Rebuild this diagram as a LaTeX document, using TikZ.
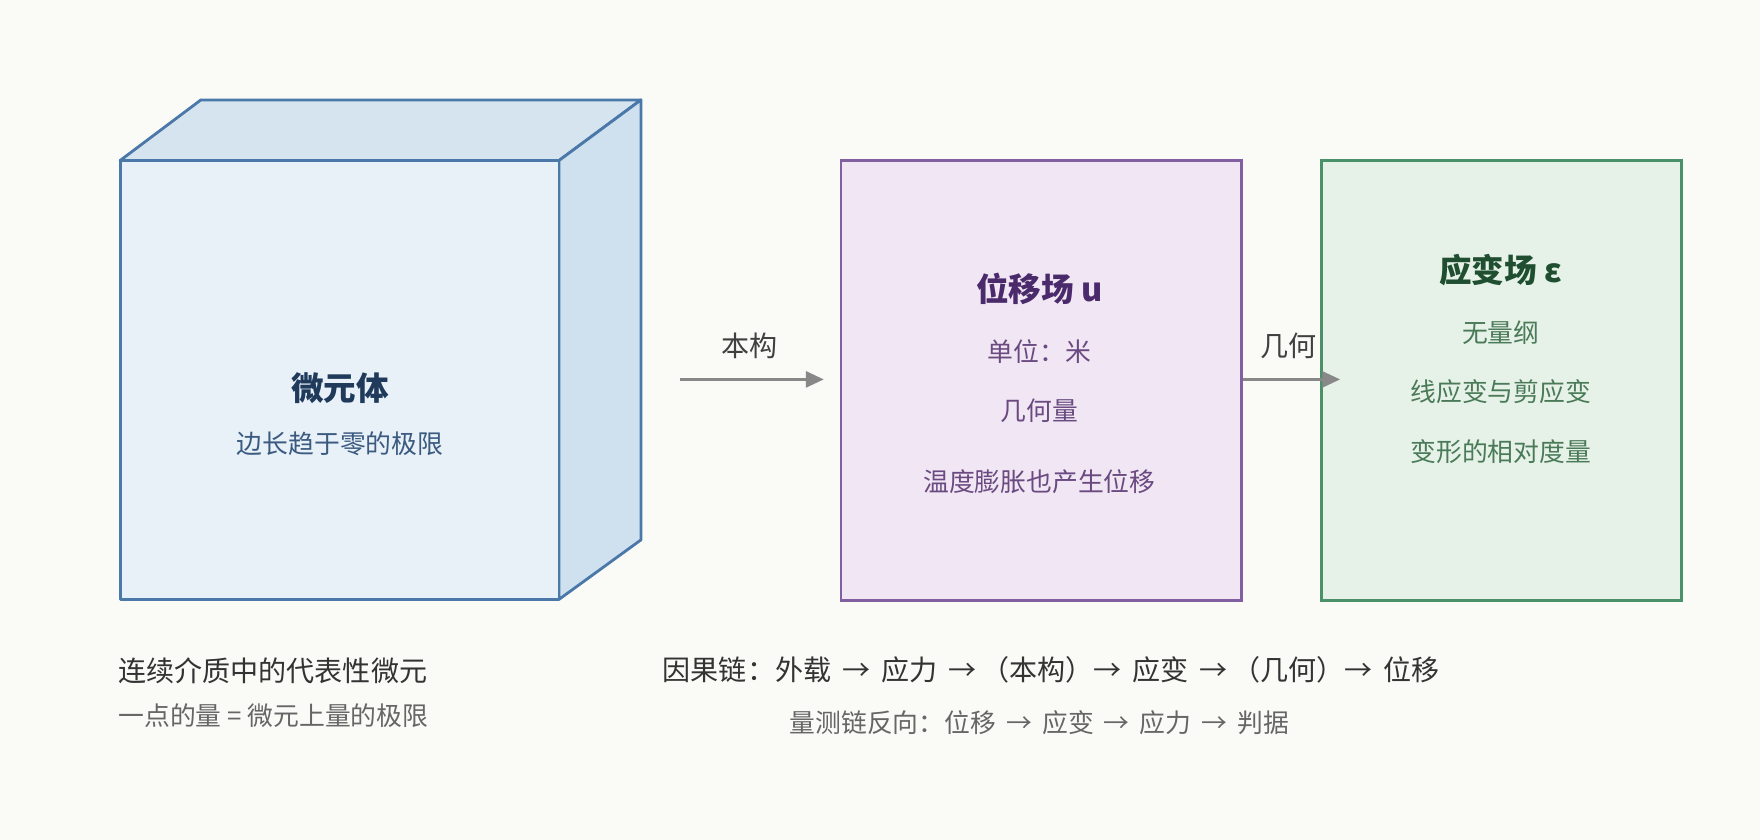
\documentclass[tikz,border=0pt]{standalone}
\usepackage{fontspec}
\setmainfont{Noto Sans CJK SC}
\usetikzlibrary{arrows.meta}
\definecolor{bg}{HTML}{FAFAF6}
\definecolor{cubeS}{HTML}{4A78A8}
\definecolor{cubeF}{HTML}{E8F0F8}
\definecolor{cubeT}{HTML}{D6E4F0}
\definecolor{cubeR}{HTML}{CFE0EE}
\definecolor{purS}{HTML}{8060A0}
\definecolor{purF}{HTML}{F0E6F4}
\definecolor{grnS}{HTML}{4A9068}
\definecolor{grnF}{HTML}{E6F2E8}
\definecolor{arr}{HTML}{888888}
\definecolor{cubeTxt}{HTML}{1F3A5A}
\begin{document}
\begin{tikzpicture}[x=1pt,y=-1pt,
  face/.style={draw=cubeS,line width=2.5pt,line join=round},
  box/.style={line width=2.5pt},
  conn/.style={draw=arr,line width=3pt,-{Triangle[length=16pt,width=14pt]}},
  lab/.style={font=\fontsize{25}{29}\selectfont,text=black!75},
  ttl/.style={font=\fontsize{29}{33}\selectfont\bfseries},
  sub/.style={font=\fontsize{23}{27}\selectfont}]
\fill[bg] (0,0) rectangle (1568,748);
\useasboundingbox (0,0) rectangle (1568,748);
% cube
\filldraw[face,fill=cubeT] (107,143)--(179,89)--(571,89)--(498,143)--cycle;
\filldraw[face,fill=cubeR] (498,143)--(571,89)--(571,481)--(498,534)--cycle;
\filldraw[face,fill=cubeF] (107,143) rectangle (498,534);
\node[ttl,text=cubeTxt] (cubeT) at (303,346) {微元体};
\node[sub,text={rgb,255:red,58;green,90;blue,128}] (cubeS) at (303,395) {边长趋于零的极限};
% purple box
\node[box,draw=purS,fill=purF,minimum width=357pt,minimum height=392pt,anchor=north west] (u) at (748,142) {};
\node[ttl,text={rgb,255:red,74;green,42;blue,106}] (ut) at (926,257) {位移场 u};
\node[sub,text={rgb,255:red,106;green,74;blue,128}] (u1) at (926,313) {单位：米};
\node[sub,text={rgb,255:red,106;green,74;blue,128}] (u2) at (926,366) {几何量};
\node[sub,text={rgb,255:red,106;green,74;blue,128}] (u3) at (926,429) {温度膨胀也产生位移};
% green box
\node[box,draw=grnS,fill=grnF,minimum width=321pt,minimum height=392pt,anchor=north west] (e) at (1176,142) {};
\node[ttl,text={rgb,255:red,31;green,79;blue,48}] (et) at (1337,241) {应变场 ε};
\node[sub,text={rgb,255:red,74;green,122;blue,88}] (e1) at (1337,296) {无量纲};
\node[sub,text={rgb,255:red,74;green,122;blue,88}] (e2) at (1337,349) {线应变与剪应变};
\node[sub,text={rgb,255:red,74;green,122;blue,88}] (e3) at (1337,402) {变形的相对度量};
% arrows
\coordinate (a1s) at (606,338);
\coordinate (a1e) at (734,338);
\draw[conn] (a1s) -- (a1e);
\node[lab] (l1) at (668,308) {本构};
\coordinate (a2e) at (1194,338);
\draw[conn] (u.east |- a1s) -- (a2e);
\node[lab] (l2) at (1148,308) {几何};
% bottom texts
\node[font=\fontsize{25}{29}\selectfont,text=black!80,anchor=west] (b1) at (102,598) {连续介质中的代表性微元};
\node[sub,text=black!60,anchor=west] (b2) at (102,638) {一点的量 = 微元上量的极限};
\node[font=\fontsize{25}{29}\selectfont,text=black!80,anchor=west] (c1) at (587,597) {因果链：外载 \,→\, 应力 \,→\,（本构）→\, 应变 \,→\,（几何）→\, 位移};
\node[sub,text=black!60] (c2) at (926,644) {量测链反向：位移 \,→\, 应变 \,→\, 应力 \,→\, 判据};
\end{tikzpicture}
\end{document}
